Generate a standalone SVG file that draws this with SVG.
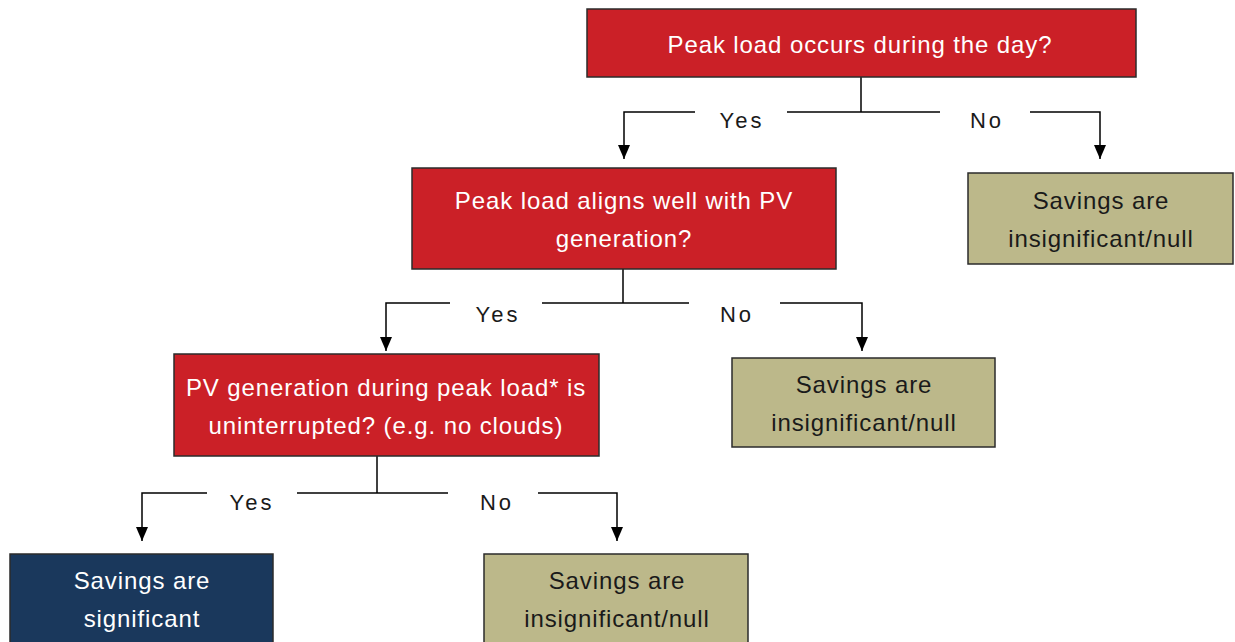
<svg xmlns="http://www.w3.org/2000/svg" width="1235" height="642" viewBox="0 0 1235 642">
<defs>
<style>
.q{fill:#cb2027;stroke:#2b2b2b;stroke-width:1.5}
.n{fill:#bcb88a;stroke:#2b2b2b;stroke-width:1.5}
.s{fill:#1a385c;stroke:#2b2b2b;stroke-width:1.5}
text{font-family:"Liberation Sans",Arial,sans-serif;font-size:24px;text-anchor:middle;letter-spacing:0.9px}
.w{fill:#ffffff}
.d{fill:#1a1a1a}
.lb{fill:#1a1a1a;font-size:22px;letter-spacing:3px}
.c{fill:none;stroke:#000;stroke-width:1.5}
</style>
<marker id="ah" markerWidth="14" markerHeight="12" refX="14" refY="6" orient="auto" markerUnits="userSpaceOnUse" viewBox="0 0 14 12">
<path d="M0,0 L14,6 L0,12 Z" fill="#000"/>
</marker>
</defs>
<g id="connectors">
<path class="c" d="M861,77 V112"/>
<path class="c" d="M695,112 H624 V159" marker-end="url(#ah)"/>
<path class="c" d="M787,112 H940"/>
<path class="c" d="M1030,112 H1100 V159" marker-end="url(#ah)"/>
<text class="lb" x="742" y="128">Yes</text>
<text class="lb" x="987" y="128">No</text>
<path class="c" d="M623,269 V303"/>
<path class="c" d="M450,303 H386 V351" marker-end="url(#ah)"/>
<path class="c" d="M542,303 H689"/>
<path class="c" d="M780,303 H862 V351" marker-end="url(#ah)"/>
<text class="lb" x="498" y="322">Yes</text>
<text class="lb" x="737" y="322">No</text>
<path class="c" d="M377,456 V493"/>
<path class="c" d="M207,493 H142 V541" marker-end="url(#ah)"/>
<path class="c" d="M297,493 H448"/>
<path class="c" d="M538,493 H617 V541" marker-end="url(#ah)"/>
<text class="lb" x="252" y="510">Yes</text>
<text class="lb" x="497" y="510">No</text>
</g>
<g id="q1">
<rect class="q" x="587" y="9" width="549" height="68"/>
<text class="w" x="860" y="53">Peak load occurs during the day?</text>
</g>
<g id="q2">
<rect class="q" x="412" y="168" width="424" height="101"/>
<text class="w" x="624" y="209">Peak load aligns well with PV</text>
<text class="w" x="624" y="247">generation?</text>
</g>
<g id="r1">
<rect class="n" x="968" y="173" width="265" height="91"/>
<text class="d" x="1101" y="209">Savings are</text>
<text class="d" x="1101" y="247">insignificant/null</text>
</g>
<g id="q3">
<rect class="q" x="174" y="354" width="425" height="102"/>
<text class="w" x="386" y="396">PV generation during peak load* is</text>
<text class="w" x="386" y="434">uninterrupted? (e.g. no clouds)</text>
</g>
<g id="r2">
<rect class="n" x="732" y="358" width="263" height="89"/>
<text class="d" x="864" y="393">Savings are</text>
<text class="d" x="864" y="431">insignificant/null</text>
</g>
<g id="r3">
<rect class="s" x="10" y="554" width="263" height="100"/>
<text class="w" x="142" y="589">Savings are</text>
<text class="w" x="142" y="627">significant</text>
</g>
<g id="r4">
<rect class="n" x="484" y="554" width="264" height="100"/>
<text class="d" x="617" y="589">Savings are</text>
<text class="d" x="617" y="627">insignificant/null</text>
</g>
</svg>
